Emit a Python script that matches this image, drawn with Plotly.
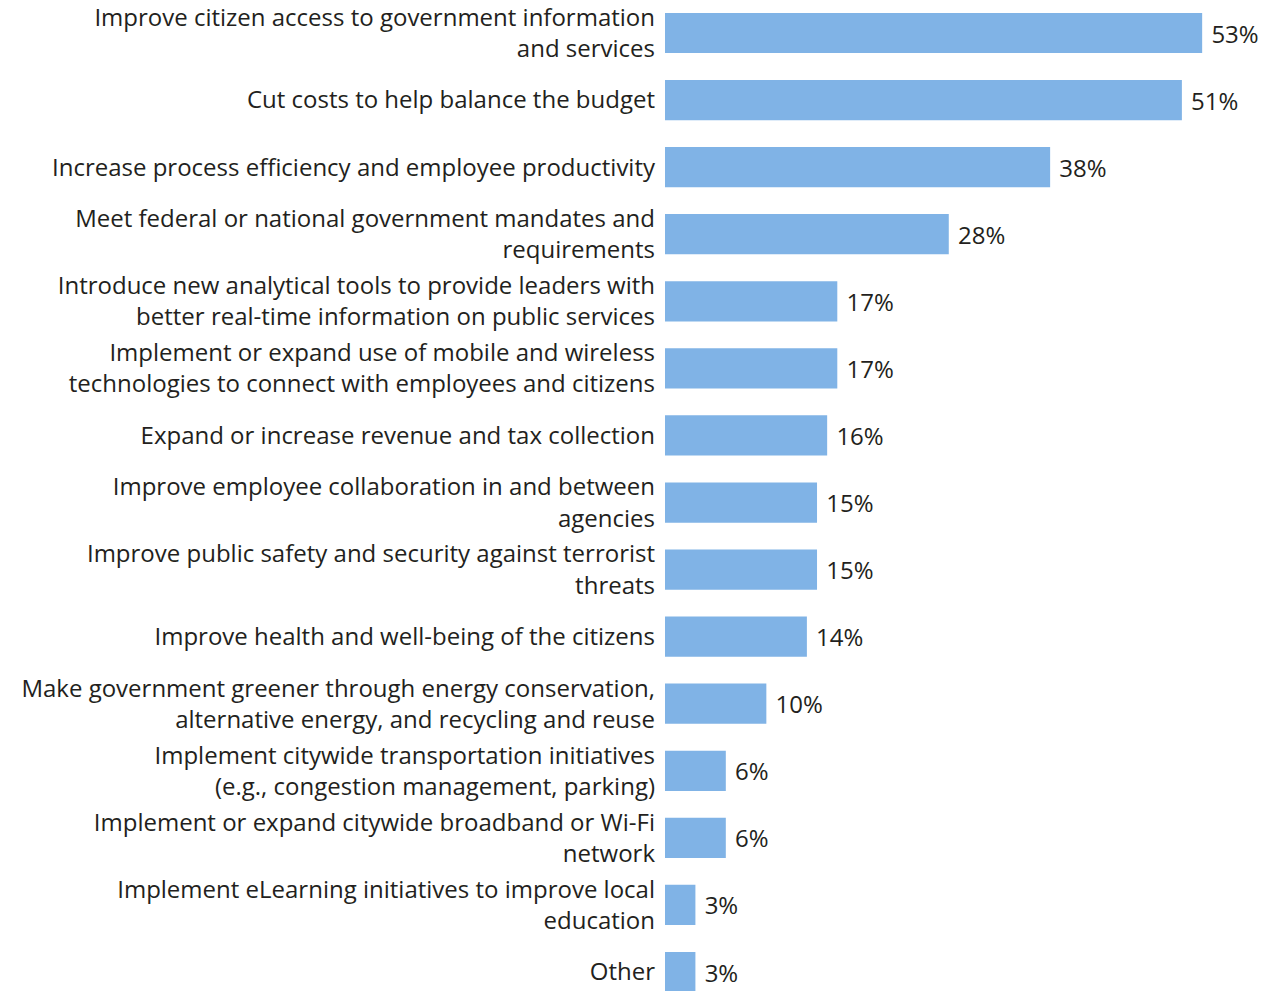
import plotly.graph_objects as go

categories = [
    "Improve citizen access to government information<br>and services",
    "Cut costs to help balance the budget",
    "Increase process efficiency and employee productivity",
    "Meet federal or national government mandates and<br>requirements",
    "Introduce new analytical tools to provide leaders with<br>better real-time information on public services",
    "Implement or expand use of mobile and wireless<br>technologies to connect with employees and citizens",
    "Expand or increase revenue and tax collection",
    "Improve employee collaboration in and between<br>agencies",
    "Improve public safety and security against terrorist<br>threats",
    "Improve health and well-being of the citizens",
    "Make government greener through energy conservation,<br>alternative energy, and recycling and reuse",
    "Implement citywide transportation initiatives<br>(e.g., congestion management, parking)",
    "Implement or expand citywide broadband or Wi-Fi<br>network",
    "Implement eLearning initiatives to improve local<br>education",
    "Other",
]
values = [53, 51, 38, 28, 17, 17, 16, 15, 15, 14, 10, 6, 6, 3, 3]
value_labels = [f"\u00a0{v}%" for v in values]

FONT = "Open Sans"
TEXT_COLOR = "#231f20"
BAR_COLOR = "#80b3e6"
FONT_SIZE = 24

fig = go.Figure(
    go.Bar(
        x=values,
        y=categories,
        orientation="h",
        marker=dict(color=BAR_COLOR, line=dict(width=0)),
        width=0.6,
        text=value_labels,
        textposition="outside",
        textfont=dict(family=FONT, size=FONT_SIZE, color=TEXT_COLOR),
        cliponaxis=False,
    )
)

fig.update_layout(
    width=1265,
    height=991,
    margin=dict(l=665, r=0, t=0, b=0),
    paper_bgcolor="white",
    plot_bgcolor="white",
    showlegend=False,
    font=dict(family=FONT, size=FONT_SIZE, color=TEXT_COLOR),
)
fig.update_xaxes(range=[0, 59.2], visible=False)
fig.update_yaxes(
    autorange=False,
    range=[14.283, -0.492],
    showgrid=False,
    showline=False,
    zeroline=False,
    ticks="",
    ticklabelstandoff=9,
    tickfont=dict(family=FONT, size=FONT_SIZE, color=TEXT_COLOR),
)

fig.write_html("out.html")
